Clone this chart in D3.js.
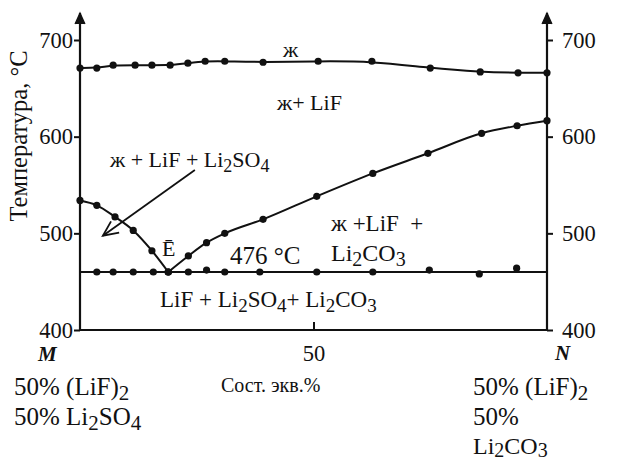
<!DOCTYPE html>
<html><head><meta charset="utf-8">
<script src="https://cdn.jsdelivr.net/npm/d3@7"></script>
<style>body{margin:0;background:#fff}svg{display:block}text{font-family:"Liberation Serif","Times New Roman",serif;fill:#111}</style>
</head><body><svg id="c" width="617" height="461"></svg>
<script>
// ---- data ----
const yTicks = [400, 500, 600, 700];
const xTicks = [50];
const topX = [0, 3.6, 7.1, 11.8, 15.4, 19.3, 23.1, 26.8, 31, 39.2, 51, 62.5, 75, 85.7, 93.8, 100];
const topT = [671, 671, 674, 674, 674, 674, 676, 678, 678, 677, 678, 678, 671, 667, 666, 666];
const so4X = [0, 3.6, 7.5, 11.4, 15.4, 18.9];
const so4T = [534, 529, 517, 503, 482, 460];
const co3X = [18.9, 23.2, 27.1, 31, 39.2, 50.7, 62.7, 74.5, 86, 93.6, 100];
const co3T = [460, 476.6, 490.3, 500, 514.5, 538.3, 562, 582.8, 603.5, 611.3, 616.5];
const eutX = [3.6, 7.1, 11.4, 15.7, 18.9, 23.2, 27.1, 31, 38.5, 50.7, 62.7, 74.8, 85.5, 93.5];
const eutT = [460, 460, 460, 460, 460, 460, 462, 460, 460, 460, 460, 462, 458, 464];
const eutLevel = 460;

const svg = d3.select("#c");
const x = d3.scaleLinear().domain([0, 100]).range([80, 547]);
const y = d3.scaleLinear().domain([400, 700]).range([330, 40]);
const FS = 22;

// axes
const ax = svg.append("g");
const left = ax.append("g").attr("transform", `translate(${x(0)},0)`)
  .call(d3.axisLeft(y).tickValues(yTicks).tickSize(6).tickPadding(1).tickSizeOuter(0));
const right = ax.append("g").attr("transform", `translate(${x(100)},0)`)
  .call(d3.axisRight(y).tickValues(yTicks).tickSize(6).tickPadding(9).tickSizeOuter(0));
const bottom = ax.append("g").attr("transform", `translate(0,${y(400)})`)
  .call(d3.axisBottom(x).tickValues(xTicks).tickSize(-8).tickPadding(15).tickSizeOuter(0));
[left, right, bottom].forEach(g => {
  g.select(".domain").remove();
  g.selectAll("line").attr("stroke", "#111").attr("stroke-width", 2);
  g.selectAll("text").style("font-size", "22.5px").attr("fill", "#111").style("font-family", '"Liberation Serif",serif');
});

svg.append("defs").append("marker").attr("id", "arr").attr("viewBox", "-12 -8 14 16")
  .attr("markerWidth", 14).attr("markerHeight", 16).attr("markerUnits", "userSpaceOnUse")
  .attr("refX", 0).attr("refY", 0).attr("orient", "auto")
  .append("path").attr("d", "M-11,-5 L0,0 L-11,5").attr("fill", "#111").attr("stroke", "#111").attr("stroke-width", 1.2);
svg.append("defs").append("marker").attr("id", "arrOpen").attr("viewBox", "-16 -9 18 18")
  .attr("markerWidth", 18).attr("markerHeight", 18).attr("markerUnits", "userSpaceOnUse")
  .attr("refX", 0).attr("refY", 0).attr("orient", "auto")
  .append("path").attr("d", "M-15,-7 L0,0 L-15,7").attr("fill", "none").attr("stroke", "#111").attr("stroke-width", 1.8);

// axis lines
const axisLine = (x1, y1, x2, y2, m) => {
  const l = svg.append("line").attr("x1", x1).attr("y1", y1).attr("x2", x2).attr("y2", y2)
    .attr("stroke", "#111").attr("stroke-width", 2.2);
  if (m) l.attr("marker-end", "url(#arr)");
};
axisLine(x(0), y(400) + 1, x(0), 13, true);
axisLine(x(100), y(400) + 1, x(100), 13, true);
axisLine(x(0) - 1, y(400), x(100) + 1, y(400));

// curves
const pts = (xs, ts) => xs.map((v, i) => [x(v), y(ts[i])]);
const g = svg.append("g");
g.append("path").attr("d", d3.line().curve(d3.curveBasis)(pts(topX, topT)))
  .attr("fill", "none").attr("stroke", "#111").attr("stroke-width", 2);
g.append("path").attr("d", d3.line().curve(d3.curveMonotoneX)(pts(so4X, so4T)))
  .attr("fill", "none").attr("stroke", "#111").attr("stroke-width", 2);
g.append("path").attr("d", d3.line().curve(d3.curveMonotoneX)(pts(co3X, co3T)))
  .attr("fill", "none").attr("stroke", "#111").attr("stroke-width", 2);
g.append("line").attr("x1", x(0)).attr("x2", x(100)).attr("y1", y(eutLevel)).attr("y2", y(eutLevel))
  .attr("stroke", "#111").attr("stroke-width", 2);

// dots
const allPts = [].concat(pts(topX, topT), pts(so4X, so4T), pts(co3X, co3T), pts(eutX, eutT));
g.selectAll("circle").data(allPts).join("circle")
  .attr("cx", d => d[0]).attr("cy", d => d[1]).attr("r", 3.6).attr("fill", "#111");

// annotation arrow (data coords)
svg.append("line").attr("x1", x(24.6)).attr("y1", y(565.5)).attr("x2", x(4.9)).attr("y2", y(497.5))
  .attr("stroke", "#111").attr("stroke-width", 1.8).attr("marker-end", "url(#arrOpen)");

// rich text helper: parts = [[text, sub?], ...]
function rich(xp, yp, parts, opts = {}) {
  const size = opts.size || FS;
  const t = svg.append("text").attr("x", xp).attr("y", yp).style("font-size", size + "px")
    .attr("xml:space", "preserve").style("white-space", "pre");
  if (opts.weight) t.style("font-weight", opts.weight);
  if (opts.style) t.style("font-style", opts.style);
  if (opts.anchor) t.attr("text-anchor", opts.anchor);
  const sd = opts.subDy || 5;
  let lowered = false;
  parts.forEach(p => {
    const s = t.append("tspan").text(p[0]);
    if (p[1]) {
      s.style("font-size", Math.round(size * 0.82) + "px");
      if (!lowered) { s.attr("dy", sd); lowered = true; }
    } else if (lowered) { s.attr("dy", -sd); lowered = false; }
  });
  return t;
}

rich(283, 57, [["ж"]]);
rich(277, 110, [["ж+ LiF"]]);
rich(110, 167, [["ж + LiF + Li"], ["2", 1], ["SO"], ["4", 1]]);
rich(162, 256, [["Ē"]]);
rich(230, 264, [["476 °C"]], {size: 25});
rich(331, 231, [["ж +LiF  +"]], {size: 23});
rich(331, 261, [["Li"], ["2", 1], ["CO"], ["3", 1]], {size: 24});
rich(160, 307, [["LiF + Li"], ["2", 1], ["SO"], ["4", 1], ["+ Li"], ["2", 1], ["CO"], ["3", 1]], {size: 23});

rich(38, 361, [["M"]], {weight: "bold", style: "italic", size: 21});
rich(555, 360, [["N"]], {weight: "bold", style: "italic", size: 21});

rich(14, 395, [["50% (LiF)"], ["2", 1]], {size: 25});
rich(14, 425, [["50% Li"], ["2", 1], ["SO"], ["4", 1]], {size: 25});
rich(221, 392, [["Сост. экв.%"]], {size: 20});
rich(473, 395, [["50% (LiF)"], ["2", 1]], {size: 25});
rich(473, 425, [["50%"]], {size: 25});
rich(473, 454, [["Li"], ["2", 1], ["CO"], ["3", 1]], {size: 24, subDy: 3});

svg.append("text").attr("transform", "translate(27,136) rotate(-90)").attr("text-anchor", "middle")
  .style("font-size", "24.5px").text("Температура, °С");
</script></body></html>
